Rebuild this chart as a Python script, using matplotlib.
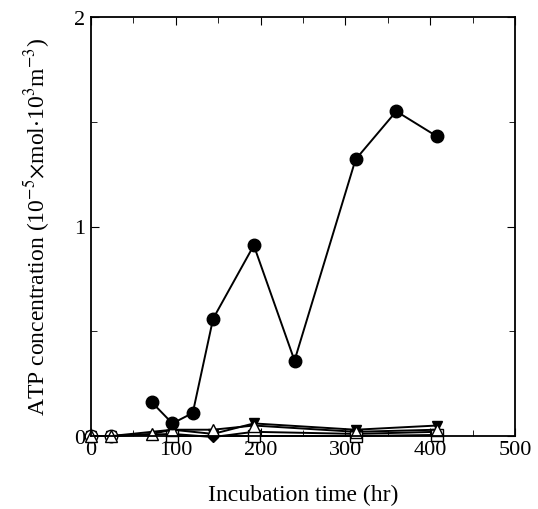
import numpy as np
import matplotlib
matplotlib.use("Agg")
import matplotlib.pyplot as plt
from matplotlib.ticker import MultipleLocator

plt.rcParams['font.family'] = ['Liberation Serif', 'DejaVu Serif']
plt.rcParams['mathtext.fontset'] = 'stix'

# filled circles (main series)
t_fc = [72, 96, 120, 144, 192, 240, 312, 360, 408]
atp_fc = [0.16, 0.06, 0.11, 0.56, 0.91, 0.36, 1.32, 1.55, 1.43]

# near-zero series
t_tri = [0, 24, 72, 96, 144, 192, 312, 408]
atp_tri = [0.0, 0.0, 0.01, 0.03, 0.03, 0.05, 0.02, 0.03]

t_inv = [0, 24, 96, 144, 192, 312, 408]
atp_inv = [0.0, 0.0, 0.03, 0.01, 0.06, 0.03, 0.05]

t_dia = [0, 24, 96, 144, 192, 312, 408]
atp_dia = [0.0, 0.0, 0.01, -0.005, 0.02, 0.01, 0.02]

t_oc = [0, 24]
atp_oc = [0.0, 0.0]

t_sq = [96, 192, 312, 408]
atp_sq = [0.0, 0.0, 0.0, 0.005]

fig = plt.figure(figsize=(5.38, 5.10), dpi=100)
ax = fig.add_axes([91 / 538, 1 - 437 / 510, 424 / 538, 419 / 510])

kw = dict(color='black', lw=1.4, clip_on=False)
ax.plot(t_dia, atp_dia, marker='D', ms=5, mfc='black', **kw)
ax.plot(t_inv, atp_inv, marker='v', ms=7, mfc='black', **kw)
ax.plot(t_sq, atp_sq, marker='s', ms=8, mfc='white', **kw)
ax.plot(t_oc, atp_oc, marker='o', ms=9, mfc='white', **kw)
ax.plot(t_tri, atp_tri, marker='^', ms=8, mfc='white', **kw)
ax.plot(t_fc, atp_fc, marker='o', ms=9, mfc='black', **kw)

ax.set_xlim(0, 500)
ax.set_ylim(0, 2)
ax.xaxis.set_major_locator(MultipleLocator(100))
ax.xaxis.set_minor_locator(MultipleLocator(50))
ax.yaxis.set_major_locator(MultipleLocator(1))
ax.yaxis.set_minor_locator(MultipleLocator(0.5))
ax.tick_params(which='both', direction='in', top=True, right=True, labelsize=16)
ax.tick_params(axis='x', pad=3)
ax.tick_params(axis='y', pad=4)
ax.tick_params(which='major', length=6)
ax.tick_params(which='minor', length=4)
for s in ax.spines.values():
    s.set_linewidth(1.3)

ax.set_xlabel('Incubation time (hr)', fontsize=17, labelpad=18)
ax.set_ylabel(r'ATP concentration (10$^{-5}$$\times$mol$\cdot$10$^{3}$m$^{-3}$)',
              fontsize=17, labelpad=16)

fig.savefig('out.png', dpi=100)
